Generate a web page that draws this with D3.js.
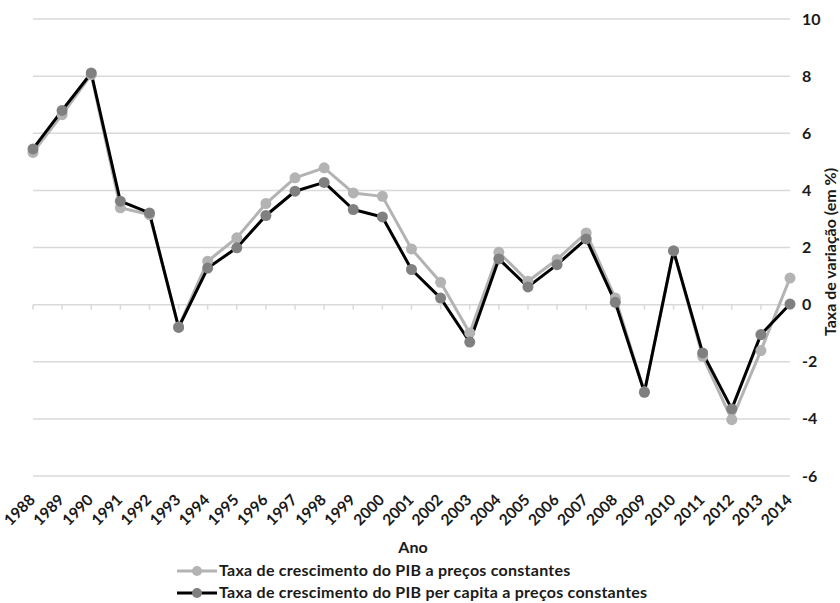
<!DOCTYPE html>
<html><head><meta charset="utf-8">
<script src="https://cdn.jsdelivr.net/npm/d3@7/dist/d3.min.js"></script>
<style>body{margin:0;background:#fff}svg{display:block}text{font-family:Lato,"Open Sans",sans-serif;font-weight:bold;fill:#1a1a1a}</style>
</head><body><svg id="c" width="840" height="603"></svg>
<script>
const years = ["1988","1989","1990","1991","1992","1993","1994","1995","1996","1997","1998","1999","2000","2001","2002","2003","2004","2005","2006","2007","2008","2009","2010","2011","2012","2013","2014"];
const pib = [5.33,6.65,8.05,3.39,3.15,-0.78,1.52,2.34,3.54,4.44,4.79,3.91,3.79,1.95,0.78,-0.99,1.83,0.82,1.58,2.51,0.23,-3.05,1.89,-1.81,-4.03,-1.61,0.93];
const pibPc = [5.45,6.80,8.11,3.62,3.21,-0.80,1.28,1.99,3.12,3.97,4.28,3.33,3.07,1.23,0.23,-1.31,1.60,0.62,1.40,2.30,0.08,-3.07,1.88,-1.69,-3.65,-1.05,0.02];
const yTicks = [-6,-4,-2,0,2,4,6,8,10];
const seriesNames = ["Taxa de crescimento do PIB a preços constantes","Taxa de crescimento do PIB per capita a preços constantes"];

const svg = d3.select("#c");
const x = d3.scalePoint().domain(years).range([33, 790]);
const y = d3.scaleLinear().domain([-6, 10]).range([476, 19]);

svg.append("g").selectAll("line").data(yTicks).join("line")
  .attr("x1", 33).attr("x2", 790)
  .attr("y1", d => y(d)).attr("y2", d => y(d))
  .attr("stroke", "#d9d9d9").attr("stroke-width", 1.5);

svg.append("g").selectAll("line").data(years).join("line")
  .attr("x1", d => x(d)).attr("x2", d => x(d))
  .attr("y1", y(0)).attr("y2", y(0) + 5)
  .attr("stroke", "#d9d9d9").attr("stroke-width", 1.5);

svg.append("g").selectAll("text").data(yTicks).join("text")
  .attr("x", 802).attr("y", d => y(d)).attr("dy", "0.35em")
  .attr("font-size", 16).text(d => d);

svg.append("text").attr("transform", "translate(836,252) rotate(-90)")
  .attr("text-anchor", "middle").attr("font-size", 16).text("Taxa de variação (em %)");

svg.append("g").selectAll("text").data(years).join("text")
  .attr("transform", d => `translate(${x(d) + 3},501) rotate(-45)`)
  .attr("text-anchor", "end")
  .attr("font-size", 15.5).text(d => d);

svg.append("text").attr("x", 413).attr("y", 553).attr("text-anchor", "middle")
  .attr("font-size", 16).text("Ano");

const line = d3.line().x((d, i) => x(years[i])).y(d => y(d));
const styles = [
  {data: pib, stroke: "#b3b3b3", fill: "#b3b3b3"},
  {data: pibPc, stroke: "#000000", fill: "#808080"}
];
styles.forEach(s => {
  svg.append("path").datum(s.data).attr("d", line)
    .attr("fill", "none").attr("stroke", s.stroke).attr("stroke-width", 3).attr("stroke-linejoin", "round");
});
styles.forEach(s => {
  svg.append("g").selectAll("circle").data(s.data).join("circle")
    .attr("cx", (d, i) => x(years[i])).attr("cy", d => y(d)).attr("r", 5.5)
    .attr("fill", s.fill);
});

const legY = [571, 593];
styles.forEach((s, i) => {
  const g = svg.append("g");
  g.append("line").attr("x1", 177).attr("x2", 217).attr("y1", legY[i]).attr("y2", legY[i])
    .attr("stroke", s.stroke).attr("stroke-width", 3);
  g.append("circle").attr("cx", 197).attr("cy", legY[i]).attr("r", 5).attr("fill", s.fill);
  g.append("text").attr("x", 219).attr("y", legY[i]).attr("dy", "0.33em")
    .attr("font-size", 16).attr("letter-spacing", 0.25).text(seriesNames[i]);
});
</script></body></html>
